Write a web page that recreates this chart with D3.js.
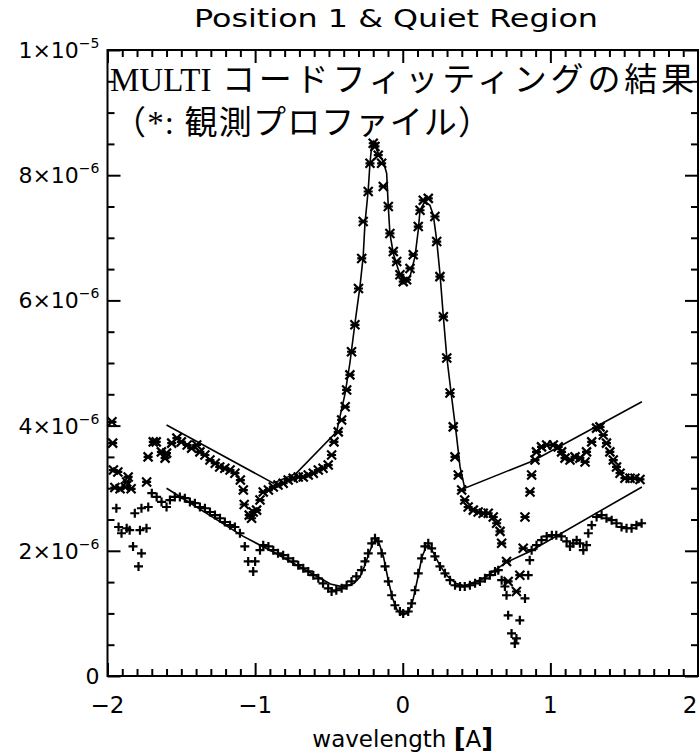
<!DOCTYPE html>
<html>
<head>
<meta charset="utf-8">
<script src="https://cdn.jsdelivr.net/npm/d3@7"></script>
<style>
    body { margin: 0; background: #fff; }
    #chart { width: 699px; height: 754px; }
    text { font-family: "DejaVu Sans", sans-serif; fill: #000; }
    .note { font-family: "Liberation Serif", "Noto Sans CJK JP", serif; }
</style>
</head>
<body>
<div id="chart"></div>
<script>

// observed profiles, [wavelength (A), intensity in units of 1e-6]
let obsStar = [
    [-1.97,4.06],[-1.965,3.72],[-1.96,3.29],[-1.95,3.01],[-1.93,3.26],[-1.915,2.99],[-1.88,3.02],[-1.87,3.10],
    [-1.86,3.18],[-1.84,2.99],[-1.735,3.10],[-1.725,3.50],[-1.69,3.74],[-1.67,3.74],[-1.635,3.58],[-1.61,3.48],
    [-1.60,3.56],[-1.565,3.72],[-1.53,3.80],[-1.50,3.74],[-1.46,3.69],[-1.43,3.64],[-1.396,3.69],[-1.374,3.58],
    [-1.34,3.53],[-1.306,3.45],[-1.27,3.40],[-1.24,3.34],[-1.205,3.32],[-1.17,3.29],[-1.137,3.24],[-1.10,3.13],
    [-1.08,2.97],[-1.074,2.74],[-1.04,2.57],[-1.024,2.52],[-1.013,2.62],[-0.99,2.65],[-0.967,2.81],[-0.945,2.94],
    [-0.91,2.97],[-0.877,3.02],[-0.845,3.05],[-0.81,3.08],[-0.776,3.13],[-0.742,3.16],[-0.708,3.18],[-0.674,3.18],
    [-0.64,3.21],[-0.606,3.24],[-0.572,3.29],[-0.54,3.32],[-0.505,3.37],[-0.482,3.53],[-0.466,3.74],[-0.437,3.90],
    [-0.414,4.09],[-0.39,4.30],[-0.38,4.57],[-0.358,4.81],[-0.347,5.18],[-0.324,5.61],[-0.30,6.19],[-0.278,6.67],
    [-0.268,7.26],[-0.234,7.74],[-0.222,8.19],[-0.20,8.51],[-0.188,8.46],[-0.166,8.32],[-0.143,8.19],[-0.132,7.82],
    [-0.098,7.50],[-0.087,7.07],[-0.064,6.78],[-0.041,6.62],[-0.019,6.41],[0.003,6.30],[0.026,6.33],[0.049,6.51],
    [0.071,6.73],[0.105,7.18],[0.117,7.44],[0.139,7.60],[0.173,7.63],[0.218,7.34],[0.23,6.94],[0.252,6.38],
    [0.275,5.74],[0.298,5.08],[0.32,4.52],[0.342,3.98],[0.354,3.50],[0.376,3.21],[0.399,2.97],[0.42,2.81],
    [0.443,2.70],[0.478,2.65],[0.511,2.62],[0.545,2.60],[0.579,2.60],[0.613,2.54],[0.636,2.44],[0.659,2.31],
    [0.67,2.12],[0.703,1.83],[0.714,1.51],[0.77,1.35],[0.793,1.61],[0.816,2.04],[0.828,2.54],[0.862,2.94],
    [0.873,3.21],[0.896,3.45],[0.906,3.58],[0.94,3.66],[0.975,3.69],[1.02,3.69],[1.053,3.66],[1.076,3.58],
    [1.099,3.48],[1.133,3.45],[1.167,3.50],[1.20,3.48],[1.235,3.42],[1.245,3.58],[1.28,3.74],[1.313,3.96],
    [1.336,3.98],[1.358,3.85],[1.38,3.72],[1.403,3.58],[1.426,3.45],[1.448,3.34],[1.472,3.24],[1.505,3.16],
    [1.54,3.16],[1.573,3.16],[1.607,3.14]
];

let obsPlus = [
    [-1.94,2.68],[-1.925,2.38],[-1.905,2.28],[-1.87,2.36],[-1.85,2.33],[-1.827,2.07],[-1.815,2.60],[-1.79,1.75],
    [-1.78,2.33],[-1.77,1.96],[-1.77,2.68],[-1.736,2.36],[-1.724,2.70],[-1.70,2.92],[-1.667,2.86],[-1.634,2.78],
    [-1.60,2.70],[-1.577,2.81],[-1.544,2.86],[-1.51,2.86],[-1.476,2.84],[-1.442,2.78],[-1.408,2.76],[-1.374,2.70],
    [-1.34,2.68],[-1.306,2.62],[-1.272,2.57],[-1.238,2.52],[-1.205,2.46],[-1.17,2.41],[-1.137,2.38],[-1.103,2.28],
    [-1.07,2.07],[-1.047,1.83],[-1.013,1.67],[-1.00,1.83],[-0.967,2.01],[-0.945,2.09],[-0.91,2.07],[-0.877,2.01],
    [-0.845,1.96],[-0.81,1.93],[-0.776,1.88],[-0.742,1.83],[-0.708,1.77],[-0.674,1.72],[-0.64,1.67],[-0.606,1.61],
    [-0.572,1.56],[-0.54,1.48],[-0.505,1.40],[-0.482,1.35],[-0.45,1.37],[-0.414,1.40],[-0.38,1.45],[-0.347,1.51],
    [-0.314,1.59],[-0.28,1.69],[-0.256,1.83],[-0.234,1.96],[-0.21,2.12],[-0.188,2.20],[-0.166,2.15],[-0.143,1.96],
    [-0.12,1.75],[-0.098,1.51],[-0.075,1.29],[-0.053,1.13],[-0.019,1.03],[0.003,1.00],[0.037,1.03],[0.06,1.16],
    [0.083,1.37],[0.105,1.64],[0.128,1.88],[0.15,2.07],[0.173,2.12],[0.196,2.04],[0.218,1.91],[0.252,1.75],
    [0.286,1.64],[0.32,1.53],[0.354,1.45],[0.388,1.43],[0.42,1.43],[0.455,1.45],[0.49,1.48],[0.523,1.51],
    [0.557,1.56],[0.59,1.61],[0.625,1.67],[0.647,1.69],[0.67,1.53],[0.692,1.43],[0.703,1.29],[0.714,0.97],
    [0.737,0.68],[0.759,0.52],[0.77,0.60],[0.793,0.89],[0.828,1.24],[0.85,1.61],[0.86,1.85],[0.873,2.01],
    [0.906,2.09],[0.94,2.17],[0.975,2.23],[1.01,2.25],[1.04,2.25],[1.075,2.23],[1.11,2.15],[1.133,2.07],
    [1.155,2.12],[1.178,2.17],[1.20,2.12],[1.223,2.01],[1.245,2.09],[1.257,2.28],[1.28,2.41],[1.313,2.54],
    [1.347,2.57],[1.38,2.52],[1.415,2.49],[1.448,2.44],[1.482,2.38],[1.516,2.36],[1.55,2.36],[1.583,2.41],
    [1.618,2.44]
];

// MULTI fitted profiles (same units)
let fitStar = [
    [-1.60,4.01],[-0.877,3.08],[-0.72,3.24],[-0.448,3.90],[-0.39,4.52],[-0.358,5.00],[-0.324,5.63],[-0.29,6.22],
    [-0.268,6.70],[-0.256,7.23],[-0.234,7.76],[-0.222,8.19],[-0.21,8.48],[-0.20,8.54],[-0.166,8.35],[-0.132,8.22],
    [-0.109,8.03],[-0.098,7.50],[-0.087,7.07],[-0.064,6.75],[-0.03,6.49],[0.003,6.30],[0.015,6.27],[0.049,6.38],
    [0.083,6.70],[0.105,7.12],[0.117,7.44],[0.15,7.58],[0.184,7.52],[0.207,7.36],[0.23,6.96],[0.252,6.43],
    [0.275,5.74],[0.298,5.10],[0.331,4.46],[0.365,3.82],[0.388,3.34],[0.42,3.00],[0.884,3.44],[1.62,4.38]
];

let fitPlus = [
    [-1.60,3.00],[-1.08,2.23],[-0.877,1.98],[-0.49,1.47],[-0.40,1.42],[-0.33,1.48],[-0.29,1.58],[-0.26,1.75],
    [-0.23,1.95],[-0.20,2.13],[-0.18,2.18],[-0.16,2.12],[-0.13,1.90],[-0.10,1.55],[-0.07,1.25],[-0.04,1.06],
    [0.00,0.97],[0.04,1.02],[0.07,1.22],[0.10,1.55],[0.13,1.90],[0.16,2.07],[0.18,2.08],[0.21,1.96],
    [0.25,1.77],[0.30,1.60],[0.36,1.48],[0.42,1.44],[0.55,1.56],[0.69,1.80],[0.86,1.99],[1.62,3.02]
];

// axis ticks
let xMajor = [-2, -1, 0, 1, 2];
let xLabels = ["\u22122", "\u22121", "0", "1", "2"];
let yMajor = [0, 2, 4, 6, 8, 10];
let yMant = ["0", "2\u00d710", "4\u00d710", "6\u00d710", "8\u00d710", "1\u00d710"];
let yExp = ["", "\u22126", "\u22126", "\u22126", "\u22126", "\u22125"];

let titleText = "Position 1 & Quiet Region";
let xTitle = "wavelength ";
let noteLatin = "MULTI";
let noteLine1 = "\u30b3\u30fc\u30c9\u30d5\u30a3\u30c3\u30c6\u30a3\u30f3\u30b0\u306e\u7d50\u679c";
let noteLine2 = "\uff08*: \u89b3\u6e2c\u30d7\u30ed\u30d5\u30a1\u30a4\u30eb\uff09";


class ProfileVis {

    constructor(parentElement) {
        this.parentElement = parentElement;
        this.initVis();
    }

    initVis() {
        let vis = this;

        vis.margin = {top: 50, right: 1, bottom: 78, left: 107.5};
        vis.width = 699 - vis.margin.left - vis.margin.right;
        vis.height = 754 - vis.margin.top - vis.margin.bottom;

        vis.root = d3.select("#" + vis.parentElement).append("svg")
            .attr("width", 699)
            .attr("height", 754);

        vis.svg = vis.root.append("g")
            .attr("transform", "translate(" + vis.margin.left + "," + vis.margin.top + ")");

        vis.x = d3.scaleLinear().domain([-2, 2]).range([0, vis.width]);
        vis.y = d3.scaleLinear().domain([0, 10]).range([vis.height, 0]);

        vis.updateVis();
    }

    updateVis() {
        let vis = this;

        let xMinor = d3.range(-20, 21).map(d => d / 10).filter(d => !xMajor.includes(d));
        let yMinor = d3.range(0, 21).map(d => d / 2).filter(d => !yMajor.includes(d));

        // ticks on all four sides, pointing inward
        let axes = [
            {gen: d3.axisBottom, scale: vis.x, t: "translate(0," + vis.height + ")"},
            {gen: d3.axisTop, scale: vis.x, t: "translate(0,0)"},
            {gen: d3.axisLeft, scale: vis.y, t: "translate(0,0)"},
            {gen: d3.axisRight, scale: vis.y, t: "translate(" + vis.width + ",0)"}
        ];
        axes.forEach(a => {
            let isX = a.scale === vis.x;
            [[isX ? xMajor : yMajor, 13], [isX ? xMinor : yMinor, 7]].forEach(([vals, len]) => {
                vis.svg.append("g")
                    .attr("class", "axis")
                    .attr("transform", a.t)
                    .call(a.gen(a.scale).tickValues(vals).tickSize(-len).tickFormat(""))
                    .call(g => g.select(".domain").remove())
                    .selectAll("line")
                    .attr("stroke", "#000")
                    .attr("stroke-width", 2);
            });
        });

        // frame
        vis.svg.append("rect")
            .attr("x", 0).attr("y", 0)
            .attr("width", vis.width).attr("height", vis.height)
            .attr("fill", "none")
            .attr("stroke", "#000")
            .attr("stroke-width", 2);

        // x tick labels (last one kept inside the page)
        vis.svg.selectAll(".xlab").data(xMajor).enter().append("text")
            .attr("class", "xlab")
            .attr("x", d => Math.min(vis.x(d), vis.width - 8))
            .attr("y", vis.height + 37)
            .attr("text-anchor", "middle")
            .style("font-size", "23px")
            .text((d, i) => xLabels[i]);

        // y tick labels with superscript exponents
        let ylab = vis.svg.selectAll(".ylab").data(yMajor).enter().append("text")
            .attr("class", "ylab")
            .attr("x", -8)
            .attr("y", d => vis.y(d) + 8)
            .attr("text-anchor", "end")
            .style("font-size", "22px");
        ylab.append("tspan").text((d, i) => yMant[i]);
        ylab.append("tspan")
            .attr("dy", -10)
            .style("font-size", "14px")
            .text((d, i) => yExp[i]);

        // fitted lines
        let line = d3.line()
            .x(d => vis.x(d[0]))
            .y(d => vis.y(d[1]));

        [fitStar, fitPlus].forEach(f => {
            vis.svg.append("path")
                .datum(f)
                .attr("fill", "none")
                .attr("stroke", "#000")
                .attr("stroke-width", 1.6)
                .attr("d", line);
        });

        // observed points
        let s = 4.5;
        vis.svg.append("g").selectAll("path").data(obsStar).enter().append("path")
            .attr("transform", d => "translate(" + vis.x(d[0]) + "," + vis.y(d[1]) + ")")
            .attr("d", `M${-s},${-s}L${s},${s}M${-s},${s}L${s},${-s}M${-s},0L${s},0`)
            .attr("stroke", "#000")
            .attr("stroke-width", 2.2)
            .attr("fill", "none");

        vis.svg.append("g").selectAll("path").data(obsPlus).enter().append("path")
            .attr("transform", d => "translate(" + vis.x(d[0]) + "," + vis.y(d[1]) + ")")
            .attr("d", `M${-s},0L${s},0M0,${-s}L0,${s}`)
            .attr("stroke", "#000")
            .attr("stroke-width", 2.2)
            .attr("fill", "none");

        // titles
        vis.root.append("text")
            .attr("x", 194)
            .attr("y", 27)
            .attr("textLength", 404)
            .attr("lengthAdjust", "spacingAndGlyphs")
            .style("font-size", "25px")
            .text(titleText);

        let xt = vis.root.append("text")
            .attr("x", vis.margin.left + vis.x(0))
            .attr("y", 747)
            .attr("text-anchor", "middle")
            .style("font-size", "23px");
        xt.append("tspan").text(xTitle);
        xt.append("tspan").style("font-weight", "bold").style("font-size", "26px").text("[");
        xt.append("tspan").text("A");
        xt.append("tspan").style("font-weight", "bold").style("font-size", "26px").text("]");

        // annotation
        vis.root.append("text")
            .attr("class", "note")
            .attr("x", 110)
            .attr("y", 91)
            .style("font-size", "33px")
            .text(noteLatin);

        vis.root.append("text")
            .attr("class", "note")
            .attr("x", 222)
            .attr("y", 91)
            .attr("textLength", 472)
            .attr("lengthAdjust", "spacing")
            .style("font-size", "33px")
            .text(noteLine1);

        vis.root.append("text")
            .attr("class", "note")
            .attr("x", 113)
            .attr("y", 134)
            .attr("textLength", 378)
            .attr("lengthAdjust", "spacing")
            .style("font-size", "33px")
            .text(noteLine2);
    }
}

let profileVis = new ProfileVis("chart");

</script>
</body>
</html>
